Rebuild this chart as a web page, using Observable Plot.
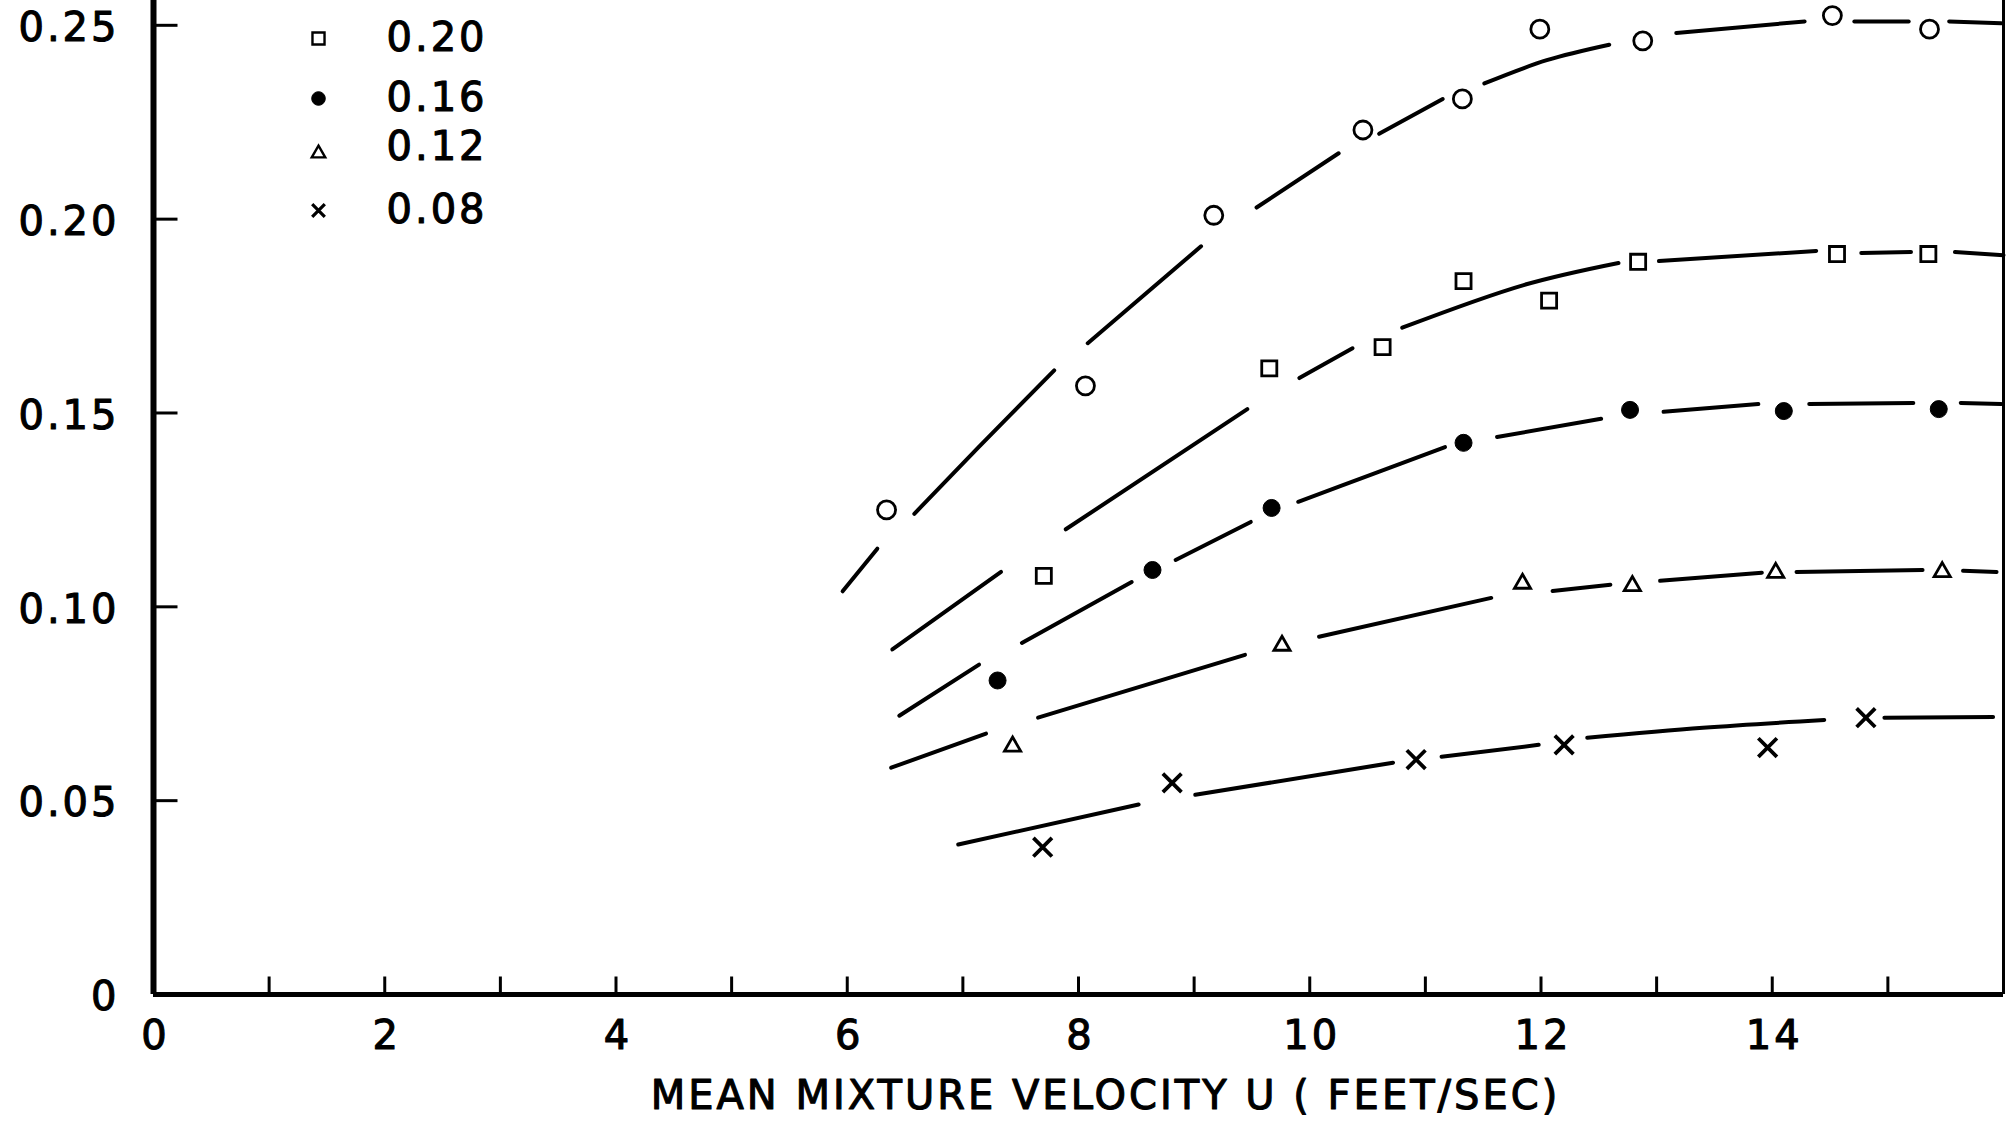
<!DOCTYPE html>
<html>
<head>
<meta charset="utf-8">
<script src="https://cdn.jsdelivr.net/npm/d3@7"></script>
<script src="https://cdn.jsdelivr.net/npm/@observablehq/plot@0.6"></script>
<style>
  html, body { margin: 0; padding: 0; background: #fff; }
  #chart { width: 2007px; height: 1121px; overflow: hidden; }
</style>
</head>
<body>
<div id="chart"></div>
<script>
// ---------- axis ticks & labels ----------
const xTickValues = [0, 2, 4, 6, 8, 10, 12, 14];
const xMinorTicks = [1, 2, 3, 4, 5, 6, 7, 8, 9, 10, 11, 12, 13, 14, 15];
const yTickValues = [0, 0.05, 0.10, 0.15, 0.20, 0.25];
const yTickLabels = ["0", "0.05", "0.10", "0.15", "0.20", "0.25"];
const xTitle = "MEAN MIXTURE VELOCITY U ( FEET/SEC)";
const legendLabels = ["0.20", "0.16", "0.12", "0.08"];

// ---------- measured points (velocity, value) ----------
const u24 = [6.34, 8.06, 9.17, 10.46, 11.32, 11.99, 12.88, 14.52, 15.36];
const v24 = [0.125, 0.157, 0.201, 0.223, 0.231, 0.249, 0.246, 0.2525, 0.249];

const u20 = [7.70, 9.65, 10.63, 11.33, 12.07, 12.84, 14.56, 15.35];
const v20 = [0.108, 0.1615, 0.167, 0.184, 0.179, 0.189, 0.191, 0.191];

const u16 = [7.30, 8.64, 9.67, 11.33, 12.77, 14.10, 15.44];
const v16 = [0.081, 0.1095, 0.1255, 0.1423, 0.1508, 0.1505, 0.151];

const u12 = [7.43, 9.76, 11.84, 12.79, 14.03, 15.47];
const v12 = [0.064, 0.090, 0.106, 0.1054, 0.1088, 0.109];

const u08 = [7.69, 8.81, 10.92, 12.20, 13.96, 14.81];
const v08 = [0.038, 0.0546, 0.0606, 0.0644, 0.0637, 0.0714];

// ---------- hand-drawn fitted curves (read as broken segments) ----------
const c24u = [5.96, 6.26, 6.58, 7.13, 7.79, 8.08, 9.06, 9.54, 10.25, 10.60, 11.15, 11.51, 12.05, 12.59, 13.17, 14.28, 14.71, 15.18, 15.53, 15.98];
const c24v = [0.104, 0.115, 0.124, 0.141, 0.161, 0.168, 0.193, 0.203, 0.217, 0.222, 0.231, 0.235, 0.241, 0.245, 0.248, 0.251, 0.251, 0.251, 0.251, 0.2505];
const c24s = [1, 1, 2, 2, 2, 3, 3, 4, 4, 5, 5, 6, 6, 6, 7, 7, 8, 8, 9, 9];

const c20u = [6.39, 7.33, 7.89, 9.46, 9.91, 10.37, 10.80, 11.85, 12.67, 13.02, 14.38, 14.77, 15.20, 15.58, 16.0];
const c20v = [0.089, 0.109, 0.120, 0.151, 0.159, 0.1667, 0.172, 0.183, 0.1887, 0.1892, 0.1918, 0.1913, 0.1915, 0.1915, 0.1907];
const c20s = [1, 1, 2, 2, 3, 3, 4, 4, 4, 5, 5, 6, 6, 7, 7];

const c16u = [6.45, 7.14, 7.51, 8.46, 8.84, 9.49, 9.90, 10.52, 11.17, 11.62, 12.52, 13.06, 13.88, 14.32, 15.22, 15.63, 15.98];
const c16v = [0.0719, 0.0851, 0.0907, 0.1064, 0.1121, 0.1219, 0.1271, 0.134, 0.1412, 0.1438, 0.1485, 0.1503, 0.1523, 0.1523, 0.1526, 0.1526, 0.1523];
const c16s = [1, 1, 2, 2, 3, 3, 4, 4, 4, 5, 5, 6, 6, 7, 7, 8, 8];

const c12u = [6.38, 7.20, 7.65, 9.44, 10.08, 11.57, 12.10, 12.60, 13.03, 13.91, 14.21, 15.30, 15.65, 15.94];
const c12v = [0.0585, 0.0673, 0.0714, 0.0876, 0.0923, 0.1023, 0.1041, 0.1057, 0.1067, 0.1088, 0.1090, 0.1095, 0.1093, 0.109];
const c12s = [1, 1, 2, 2, 3, 3, 4, 4, 5, 5, 6, 6, 7, 7];

const c08u = [6.96, 8.52, 9.01, 10.72, 11.14, 11.98, 12.40, 13.40, 14.45, 14.97, 15.91];
const c08v = [0.0387, 0.049, 0.0515, 0.0598, 0.0613, 0.0644, 0.0662, 0.0688, 0.0708, 0.0714, 0.0716];
const c08s = [1, 1, 2, 2, 3, 3, 4, 4, 4, 5, 5];

// ---------- build tables ----------
const pts = (us, vs) => us.map((u, i) => ({u, v: vs[i]}));
const crv = (name, us, vs, ss) => us.map((u, i) => ({u, v: vs[i], seg: name + "-" + ss[i]}));

const curves = [
  ...crv("0.24", c24u, c24v, c24s),
  ...crv("0.20", c20u, c20v, c20s),
  ...crv("0.16", c16u, c16v, c16s),
  ...crv("0.12", c12u, c12v, c12s),
  ...crv("0.08", c08u, c08v, c08s)
];

const tickRight = {draw(ctx) { ctx.moveTo(0, 0); ctx.lineTo(24, 0); }};
const tickUp = {draw(ctx) { ctx.moveTo(0, 0); ctx.lineTo(0, -18); }};

const textStyle = {fill: "black", stroke: "black", strokeWidth: 1.1, paintOrder: "normal"};

const legendSym = [
  {symbol: "square", r: 6.8, fill: "none", strokeWidth: 2.4},
  {symbol: "circle", r: 6.8, fill: "black", strokeWidth: 1},
  {symbol: "triangle", r: 5, fill: "none", strokeWidth: 2.4},
  {symbol: "times", r: 5.8, fill: "none", strokeWidth: 3.2}
];
const legendMarkY = [38, 98, 153, 210];
const legendTextY = [38, 98, 147, 210];

const legendMarks = legendLabels.flatMap((lab, i) => [
  Plot.dot([lab], {frameAnchor: "top-left", dx: 165, dy: legendMarkY[i],
    symbol: legendSym[i].symbol, r: legendSym[i].r, fill: legendSym[i].fill,
    stroke: "black", strokeWidth: legendSym[i].strokeWidth}),
  Plot.text([lab], {text: d => d, frameAnchor: "top-left", dx: 233, dy: legendTextY[i],
    textAnchor: "start", lineAnchor: "middle", fontSize: 40, ...textStyle})
]);

const chart = Plot.plot({
  width: 2007,
  height: 1121,
  marginLeft: 153,
  marginRight: 4,
  marginTop: 0,
  marginBottom: 127,
  style: {fontFamily: "DejaVu Sans, sans-serif", fontSize: "40px", letterSpacing: "3px", background: "#fff", color: "black"},
  x: {domain: [0, 16], axis: null},
  y: {domain: [0, 0.2564], axis: null},
  marks: [
    Plot.line(curves, {x: "u", y: "v", z: "seg", stroke: "black", strokeWidth: 4, curve: "catmull-rom"}),
    Plot.dot(pts(u24, v24), {x: "u", y: "v", symbol: "circle", r: 9, fill: "none", stroke: "black", strokeWidth: 2.8}),
    Plot.dot(pts(u20, v20), {x: "u", y: "v", symbol: "square", r: 8.5, fill: "none", stroke: "black", strokeWidth: 2.8}),
    Plot.dot(pts(u16, v16), {x: "u", y: "v", symbol: "circle", r: 8.5, fill: "black", stroke: "black", strokeWidth: 1}),
    Plot.dot(pts(u12, v12), {x: "u", y: "v", symbol: "triangle", r: 6, fill: "none", stroke: "black", strokeWidth: 2.8}),
    Plot.dot(pts(u08, v08), {x: "u", y: "v", symbol: "times", r: 8.5, fill: "none", stroke: "black", strokeWidth: 3.8}),
    Plot.dot(yTickValues.slice(1), {y: d => d, frameAnchor: "left", symbol: tickRight, fill: "none", stroke: "black", strokeWidth: 3}),
    Plot.dot(xMinorTicks, {x: d => d, frameAnchor: "bottom", symbol: tickUp, fill: "none", stroke: "black", strokeWidth: 3}),
    Plot.ruleX([0], {stroke: "black", strokeWidth: 6}),
    Plot.ruleY([0], {stroke: "black", strokeWidth: 5}),
    Plot.ruleX([16], {stroke: "black", strokeWidth: 3}),
    // y tick labels
    Plot.text(yTickValues, {y: d => d, frameAnchor: "left", dx: -34, dy: 3, text: (d, i) => yTickLabels[i],
      textAnchor: "end", lineAnchor: "middle", fontSize: 40, ...textStyle}),
    // x tick labels
    Plot.text(xTickValues, {x: d => d, frameAnchor: "bottom", dx: 2, dy: 42, text: d => String(d),
      textAnchor: "middle", lineAnchor: "middle", fontSize: 40, ...textStyle}),
    ...legendMarks,
    Plot.text([xTitle], {text: d => d, frameAnchor: "bottom", dx: 27, dy: 102, lineAnchor: "middle",
      fontSize: 40, ...textStyle})
  ]
});

document.getElementById("chart").appendChild(chart);
</script>
</body>
</html>
